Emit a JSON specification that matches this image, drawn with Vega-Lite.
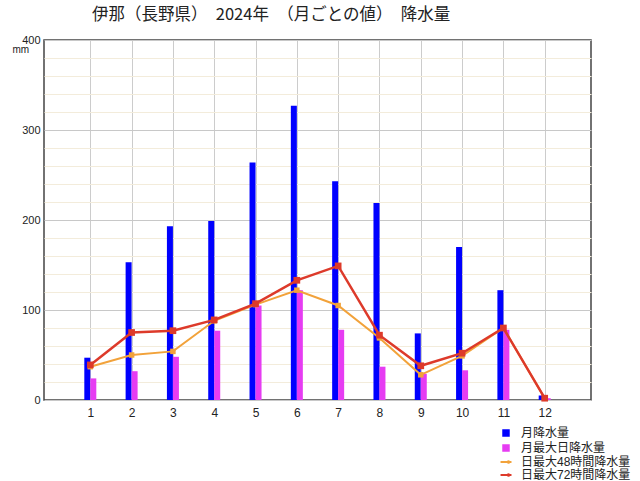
{
  "$schema": "https://vega.github.io/schema/vega-lite/v6.json",
  "autosize": "none",
  "width": 547,
  "height": 360,
  "padding": {"left": 44, "top": 40, "right": 49, "bottom": 81},
  "background": "white",
  "title": {
    "text": "伊那（長野県）　2024年　（月ごとの値）　降水量",
    "anchor": "start",
    "dx": 80,
    "offset": 11,
    "font": "Noto Sans CJK JP",
    "fontSize": 16.5,
    "fontWeight": "normal",
    "color": "#222"
  },
  "data": {
    "values": [
      {"month": 1, "series": "月降水量", "value": 47},
      {"month": 2, "series": "月降水量", "value": 153},
      {"month": 3, "series": "月降水量", "value": 193},
      {"month": 4, "series": "月降水量", "value": 199},
      {"month": 5, "series": "月降水量", "value": 264},
      {"month": 6, "series": "月降水量", "value": 327},
      {"month": 7, "series": "月降水量", "value": 243},
      {"month": 8, "series": "月降水量", "value": 219},
      {"month": 9, "series": "月降水量", "value": 74},
      {"month": 10, "series": "月降水量", "value": 170},
      {"month": 11, "series": "月降水量", "value": 122},
      {"month": 12, "series": "月降水量", "value": 5},
      {"month": 1, "series": "月最大日降水量", "value": 24},
      {"month": 2, "series": "月最大日降水量", "value": 32},
      {"month": 3, "series": "月最大日降水量", "value": 48},
      {"month": 4, "series": "月最大日降水量", "value": 77},
      {"month": 5, "series": "月最大日降水量", "value": 105},
      {"month": 6, "series": "月最大日降水量", "value": 122},
      {"month": 7, "series": "月最大日降水量", "value": 78},
      {"month": 8, "series": "月最大日降水量", "value": 37},
      {"month": 9, "series": "月最大日降水量", "value": 29},
      {"month": 10, "series": "月最大日降水量", "value": 33},
      {"month": 11, "series": "月最大日降水量", "value": 78},
      {"month": 12, "series": "月最大日降水量", "value": 2},
      {"month": 1, "series": "日最大48時間降水量", "value": 37},
      {"month": 2, "series": "日最大48時間降水量", "value": 50},
      {"month": 3, "series": "日最大48時間降水量", "value": 54},
      {"month": 4, "series": "日最大48時間降水量", "value": 88},
      {"month": 5, "series": "日最大48時間降水量", "value": 106},
      {"month": 6, "series": "日最大48時間降水量", "value": 122},
      {"month": 7, "series": "日最大48時間降水量", "value": 105},
      {"month": 8, "series": "日最大48時間降水量", "value": 69},
      {"month": 9, "series": "日最大48時間降水量", "value": 28},
      {"month": 10, "series": "日最大48時間降水量", "value": 49},
      {"month": 11, "series": "日最大48時間降水量", "value": 80},
      {"month": 12, "series": "日最大48時間降水量", "value": 2},
      {"month": 1, "series": "日最大72時間降水量", "value": 39},
      {"month": 2, "series": "日最大72時間降水量", "value": 75},
      {"month": 3, "series": "日最大72時間降水量", "value": 77},
      {"month": 4, "series": "日最大72時間降水量", "value": 89},
      {"month": 5, "series": "日最大72時間降水量", "value": 107},
      {"month": 6, "series": "日最大72時間降水量", "value": 133},
      {"month": 7, "series": "日最大72時間降水量", "value": 149},
      {"month": 8, "series": "日最大72時間降水量", "value": 72},
      {"month": 9, "series": "日最大72時間降水量", "value": 38},
      {"month": 10, "series": "日最大72時間降水量", "value": 52},
      {"month": 11, "series": "日最大72時間降水量", "value": 80},
      {"month": 12, "series": "日最大72時間降水量", "value": 2}
    ]
  },
  "encoding": {
    "x": {
      "field": "month",
      "type": "quantitative",
      "scale": {"domain": [0, 13], "nice": false},
      "axis": {
        "values": [1, 2, 3, 4, 5, 6, 7, 8, 9, 10, 11, 12],
        "title": null,
        "domain": false,
        "ticks": false,
        "labelPadding": 7,
        "labelFont": "Liberation Sans",
        "labelFontSize": 12,
        "labelColor": "#222",
        "gridColor": "#cccccc",
        "gridWidth": 1
      }
    },
    "y": {
      "field": "value",
      "type": "quantitative",
      "scale": {"domain": [0, 400], "nice": false},
      "axis": {
        "values": [0, 20, 40, 60, 80, 100, 120, 140, 160, 180, 200, 220, 240, 260, 280, 300, 320, 340, 360, 380, 400],
        "labelExpr": "datum.value % 100 === 0 ? datum.label : ''",
        "title": "mm",
        "titleAngle": 0,
        "titleX": -32,
        "titleY": 9,
        "titleAlign": "left",
        "titleBaseline": "middle",
        "titleFont": "Liberation Sans",
        "titleFontSize": 10,
        "titleFontWeight": "normal",
        "titleColor": "#222",
        "domain": false,
        "ticks": false,
        "labelPadding": 4,
        "labelFont": "Liberation Sans",
        "labelFontSize": 11,
        "labelColor": "#222",
        "gridColor": {
          "condition": {"test": "datum.value % 100 === 0", "value": "#c8c8c8"},
          "value": "#f3ecdb"
        }
      }
    },
    "color": {
      "field": "series",
      "type": "nominal",
      "scale": {
        "domain": ["月降水量", "月最大日降水量", "日最大48時間降水量", "日最大72時間降水量"],
        "range": ["#0000ff", "#e63cf2", "#f2a23a", "#dd3a2a"]
      },
      "legend": {
        "title": null,
        "orient": "none",
        "legendX": 456,
        "legendY": 387,
        "labelFont": "Liberation Sans, Noto Sans CJK JP",
        "labelFontSize": 12,
        "labelColor": "#222",
        "labelLimit": 200,
        "labelOffset": 9,
        "rowPadding": 1,
        "symbolSize": 30,
        "symbolStrokeWidth": 2,
        "encode": {
          "symbols": {
            "update": {
              "shape": {"signal": "indexof(['月降水量', '月最大日降水量'], datum.value) >= 0 ? 'square' : 'M-2,0L2,0M0.6,0A0.3,0.3 0 1,1 1.2,0A0.3,0.3 0 1,1 0.6,0'"}
            }
          }
        }
      }
    }
  },
  "layer": [
    {
      "transform": [{"filter": "datum.series === '月降水量'"}],
      "mark": {"type": "bar", "width": 6, "xOffset": -3}
    },
    {
      "transform": [{"filter": "datum.series === '月最大日降水量'"}],
      "mark": {"type": "bar", "width": 6, "xOffset": 3}
    },
    {
      "transform": [{"filter": "datum.series === '日最大48時間降水量'"}],
      "mark": {"type": "line", "strokeWidth": 2, "point": {"shape": "square", "size": 30, "filled": true}}
    },
    {
      "transform": [{"filter": "datum.series === '日最大72時間降水量'"}],
      "mark": {"type": "line", "strokeWidth": 2.5, "point": {"shape": "square", "size": 45, "filled": true}}
    }
  ],
  "config": {
    "view": {"stroke": "#444", "strokeWidth": 1.5}
  }
}
